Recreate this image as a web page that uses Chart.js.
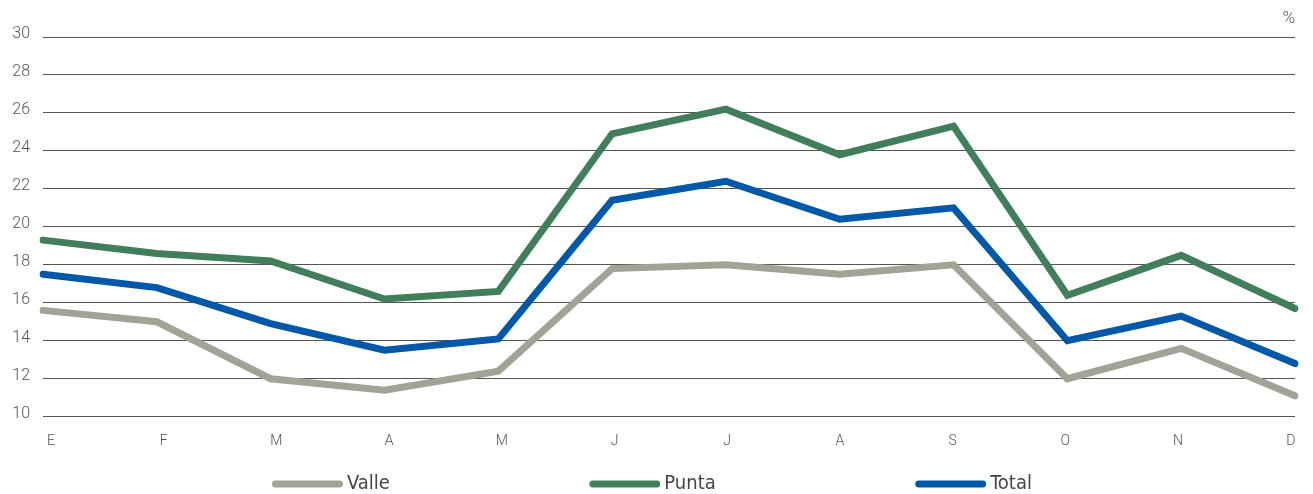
<!DOCTYPE html>
<html>
<head>
<meta charset="utf-8">
<script src="https://cdn.jsdelivr.net/npm/chart.js@4.4.1/dist/chart.umd.min.js"></script>
<style>
html,body{margin:0;padding:0;background:#fff;}
#wrap{width:1313px;height:494px;}
</style>
</head>
<body>
<div id="wrap"><canvas id="c" width="1313" height="494"></canvas></div>
<script>
// ---- data ----
const months = ['E', 'F', 'M', 'A', 'M', 'J', 'J', 'A', 'S', 'O', 'N', 'D'];
const valle = [15.6, 15.0, 12.0, 11.4, 12.4, 17.8, 18.0, 17.5, 18.0, 12.0, 13.6, 11.1];
const punta = [19.3, 18.6, 18.2, 16.2, 16.6, 24.9, 26.2, 23.8, 25.3, 16.4, 18.5, 15.7];
const total = [17.5, 16.8, 14.9, 13.5, 14.1, 21.4, 22.4, 20.4, 21.0, 14.0, 15.3, 12.8];
const yTicks = [10, 12, 14, 16, 18, 20, 22, 24, 26, 28, 30];
const seriesNames = ['Valle', 'Punta', 'Total'];
const unitLabel = '%';

// ---- styles ----
const colors = ['#A1A397', '#417F5A', '#0058A9'];
const tickFont = "Roboto, 'Liberation Sans', sans-serif";
const legendFont = "'Liberation Sans Narrow', 'DejaVu Sans Condensed', Roboto, sans-serif";
const LEGEND_PAD = 7.5;
const LEGEND_BOX = 257;
const LEGEND_SHIFT = 72.5;

function makeLegendLine(color) {
  const c = document.createElement('canvas');
  const iw = LEGEND_BOX + 12;
  c.width = iw; c.height = 10;
  const g = c.getContext('2d');
  g.strokeStyle = color; g.lineWidth = 7; g.lineCap = 'round';
  g.beginPath(); g.moveTo(iw - 67.5, 5); g.lineTo(iw - 3.5, 5); g.stroke();
  return c;
}
const legendImgs = colors.map(makeLegendLine);

const shiftLegend = {
  id: 'shiftLegend',
  afterLayout(chart) {
    const l = chart.legend;
    if (l) { l.left += LEGEND_SHIFT; l.right += LEGEND_SHIFT; }
  }
};

const seriesData = [valle, punta, total];

new Chart(document.getElementById('c'), {
  type: 'line',
  data: {
    labels: months,
    datasets: seriesNames.map((name, i) => ({
      label: name,
      data: seriesData[i],
      borderColor: colors[i],
      backgroundColor: colors[i],
      borderWidth: 7,
      pointRadius: 0,
      pointHoverRadius: 0,
      tension: 0,
      fill: false,
      borderCapStyle: 'round',
      borderJoinStyle: 'miter',
      xAxisID: 'x',
      yAxisID: 'y'
    }))
  },
  options: {
    responsive: false,
    animation: false,
    devicePixelRatio: 1,
    layout: { padding: { left: 0, right: 18, top: 0, bottom: -10 } },
    plugins: {
      title: {
        display: true,
        text: unitLabel,
        align: 'end',
        color: '#555',
        font: { family: tickFont, size: 17, weight: '300' },
        padding: { top: 9, bottom: 7.6 }
      },
      legend: {
        position: 'bottom',
        align: 'start',
        labels: {
          usePointStyle: true,
          pointStyleWidth: LEGEND_BOX,
          padding: LEGEND_PAD,
          color: '#444',
          font: { family: legendFont, size: 20, weight: '300' },
          generateLabels: (chart) => chart.data.datasets.map((ds, i) => ({
            text: ds.label,
            fillStyle: ds.borderColor,
            strokeStyle: ds.borderColor,
            lineWidth: 0,
            pointStyle: legendImgs[i],
            hidden: false,
            datasetIndex: i,
            fontColor: '#444'
          }))
        }
      },
      tooltip: { enabled: false }
    },
    scales: {
      x: {
        type: 'category',
        display: false,
        offset: false
      },
      x2: {
        type: 'linear',
        position: 'bottom',
        min: -0.071,
        max: 11.038,
        afterBuildTicks: (s) => { s.ticks = months.map((m, i) => ({ value: i })); },
        grid: { display: false, drawTicks: false },
        border: { display: false },
        ticks: {
          autoSkip: false,
          maxRotation: 0,
          padding: 16.5,
          color: '#555',
          font: { family: tickFont, size: 14, weight: '300' },
          callback: (v, idx) => months[idx]
        }
      },
      y: {
        type: 'linear',
        position: 'left',
        min: yTicks[0],
        max: yTicks[yTicks.length - 1],
        afterBuildTicks: (s) => { s.ticks = yTicks.map(v => ({ value: v })); },
        afterFit: (s) => { s.width = 43; },
        grid: { color: '#555', lineWidth: 1, drawTicks: false },
        border: { display: false },
        ticks: {
          padding: 13,
          labelOffset: -3,
          color: '#555',
          font: { family: tickFont, size: 16, weight: '300' }
        }
      }
    }
  },
  plugins: [shiftLegend]
});
</script>
</body>
</html>
